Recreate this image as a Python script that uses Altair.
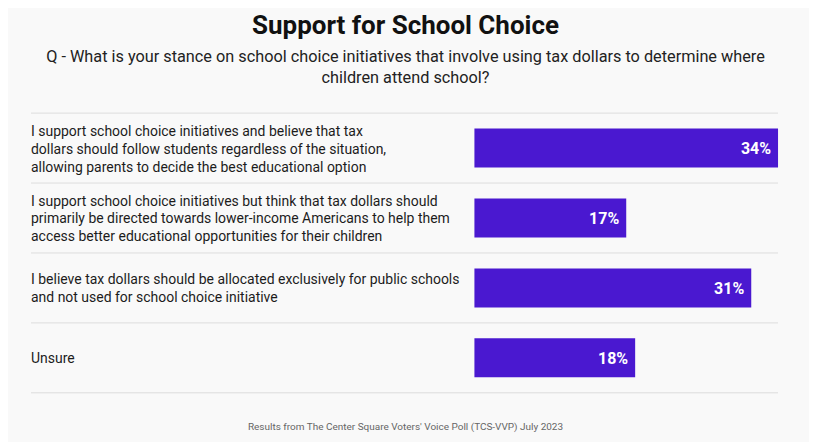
import altair as alt
import pandas as pd

categories = [
    "I support school choice initiatives and believe that tax\ndollars should follow students regardless of the situation,\nallowing parents to decide the best educational option",
    "I support school choice initiatives but think that tax dollars should\nprimarily be directed towards lower-income Americans to help them\naccess better educational opportunities for their children",
    "I believe tax dollars should be allocated exclusively for public schools\nand not used for school choice initiative",
    "Unsure",
]
values = [34, 17, 31, 18]
value_labels = ["34%", "17%", "31%", "18%"]

title_text = "Support for School Choice"
subtitle_lines = [
    "Q - What is your stance on school choice initiatives that involve using tax dollars to determine where",
    "children attend school?",
]
footer_text = "Results from The Center Square Voters' Voice Poll (TCS-VVP) July 2023"

df = pd.DataFrame({
    "cat": categories,
    "value": values,
    "label": value_labels,
    "order": list(range(len(categories))),
})

W = 750
H = 280
FONT = "Roboto"
BAR = "#4a18d0"
LH = 18

def yband(bp=None):
    kw = {}
    if bp is not None:
        kw["bandPosition"] = bp
    return alt.Y("cat:N", sort=categories, axis=None,
                 scale=alt.Scale(paddingInner=0, paddingOuter=0), **kw)

x_scale = alt.Scale(domain=[0, 34], range=[444, 748])

base = alt.Chart(df)

bars = base.mark_bar(height=39, color=BAR).encode(
    x=alt.X("value:Q", scale=x_scale, axis=None),
    y=yband(),
)

vals = base.mark_text(align="right", baseline="middle", dx=-7, dy=1, color="white",
                      font=FONT, fontSize=16, fontWeight="bold").encode(
    x=alt.X("value:Q", scale=x_scale, axis=None),
    y=yband(),
    text="label:N",
)

label_layers = []
for n in (1, 2, 3):
    label_layers.append(
        base.transform_calculate(nl="length(split(datum.cat, '\\n'))")
        .transform_filter(alt.datum.nl == n)
        .mark_text(align="left", baseline="middle", lineBreak="\n",
                   lineHeight=LH, dy=-(n - 1) * LH / 2 + 1.5,
                   font=FONT, fontSize=14, color="#1c1c1c")
        .encode(x=alt.value(0), y=yband(), text="cat:N")
    )

rules_top = base.mark_rule(color="#dddddd", strokeWidth=1).encode(
    y=yband(0), x=alt.value(0), x2=alt.value(748),
)
rules_bottom = base.transform_filter(alt.datum.order == len(categories) - 1).mark_rule(
    color="#dddddd", strokeWidth=1).encode(
    y=yband(1), x=alt.value(0), x2=alt.value(748),
)

footer = alt.Chart(pd.DataFrame({"t": [footer_text]})).mark_text(
    align="center", baseline="middle", font=FONT, fontSize=10, color="#666666").encode(
    x=alt.value(375), y=alt.value(H + 34), text="t:N")

chart = alt.layer(rules_top, rules_bottom, bars, vals, *label_layers, footer).properties(
    width=W, height=H,
    background="#f9f9f9",
    padding={"left": 22, "right": 29, "top": 5, "bottom": 10},
    title=alt.TitleParams(
        text=title_text, subtitle=subtitle_lines,
        font=FONT, fontSize=26, fontWeight="bold", color="#111111",
        subtitleFont=FONT, subtitleFontSize=16.3, subtitleColor="#222222",
        subtitleLineHeight=21, subtitlePadding=10, anchor="middle", offset=26,
    ),
).configure_view(stroke="transparent", strokeWidth=0)

chart.save("out.html", embed_options={"renderer": "svg", "actions": False})
